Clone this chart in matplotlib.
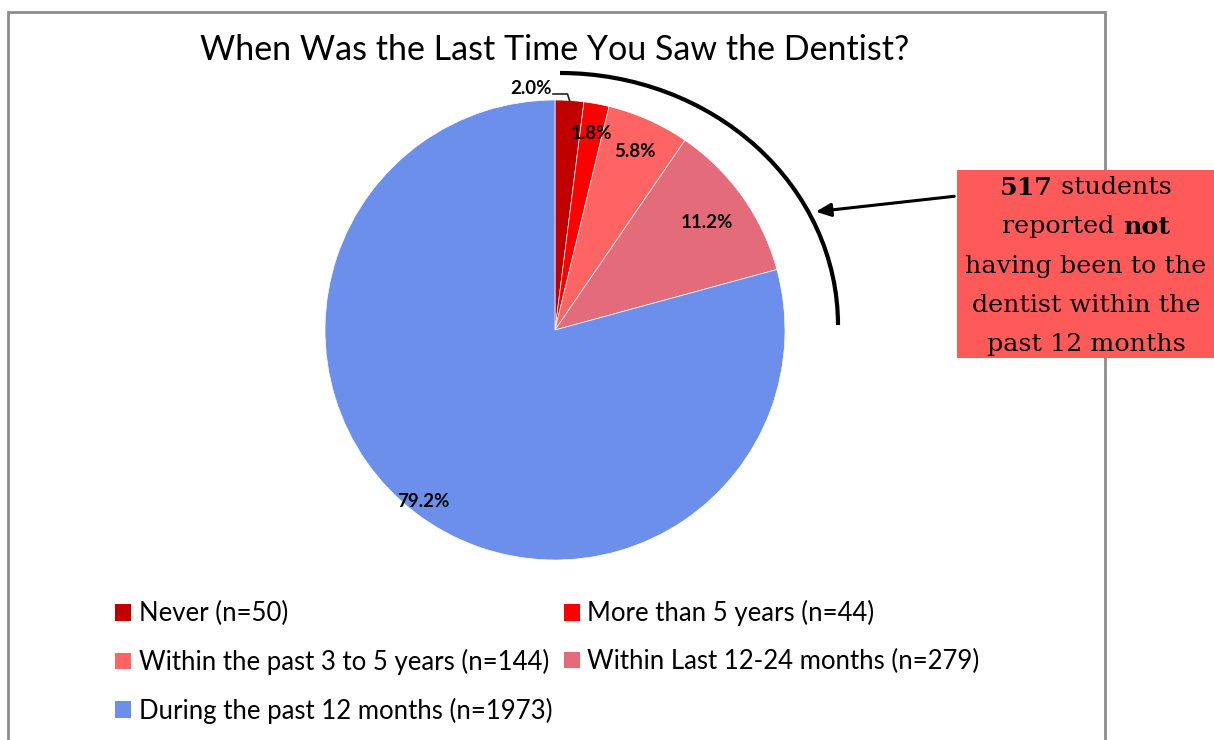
import numpy as np
import matplotlib.pyplot as plt
from matplotlib.patches import Patch, Rectangle, Arc

# survey counts
categories = ['Never', 'More than 5 years', 'Within the past 3 to 5 years',
              'Within Last 12-24 months', 'During the past 12 months']
counts = [50, 44, 144, 279, 1973]
colors = ['#C00000', '#FF0000', '#FF6464', '#E46C7A', '#6B8FEA']
not_recent = sum(counts[:4])

W, H = 1214, 740
fig = plt.figure(figsize=(W / 100, H / 100), dpi=100)
ax = fig.add_axes([0, 0, 1, 1])
ax.set_xlim(0, W)
ax.set_ylim(0, H)
ax.set_aspect('equal')
ax.axis('off')

def py(y):
    # pixel row -> data y
    return H - y

# chart frame
ax.add_patch(Rectangle((8, py(760)), 1097, 760 - 12, fill=False,
                       edgecolor='#8c8c8c', linewidth=2, zorder=1))

ax.text(555, py(50), 'When Was the Last Time You Saw the Dentist?',
        ha='center', va='center', fontsize=24.5, family='Lato')

cx, cy, r = 555, py(330), 230
wedges, _ = ax.pie(counts, colors=colors, startangle=90, counterclock=False,
                   center=(cx, cy), radius=r, frame=True,
                   wedgeprops=dict(edgecolor='white', linewidth=0.5))
ax.set_xlim(0, W)
ax.set_ylim(0, H)
ax.axis('off')

# percentage labels
pcts = [100 * c / sum(counts) for c in counts]
label_r = [None, 0.87, 0.85, 0.81, 0.94]
for w, p, lr in zip(wedges, pcts, label_r):
    mid = np.deg2rad((w.theta1 + w.theta2) / 2)
    if lr is None:
        # small slice: label outside with a leader line
        ex, ey = cx + r * np.cos(mid), cy + r * np.sin(mid)
        ax.plot([cx - 2, ex - 2, ex], [py(94), py(94), ey], color='#222222',
                linewidth=1.2, zorder=4)
        ax.text(cx - 3, py(88), f'{p:.1f}%', ha='right', va='center',
                fontsize=13.5, family='Lato', fontweight='bold', zorder=5)
        continue
    tx, ty = cx + lr * r * np.cos(mid), cy + lr * r * np.sin(mid)
    ax.text(tx, ty, f'{p:.1f}%', ha='center', va='center', fontsize=13.5,
            family='Lato', fontweight='bold', zorder=5)

# bracket arc over the "not within 12 months" slices
ax.add_patch(Arc((560, py(325)), 2 * 278, 2 * 252, theta1=0, theta2=90,
                 color='black', linewidth=3, zorder=3))
ax.annotate('', xy=(813, py(212)), xytext=(957, py(196)),
            arrowprops=dict(arrowstyle='-|>,head_length=0.9,head_width=0.4',
                            color='black', linewidth=2.2), zorder=3)

# callout box
ax.add_patch(Rectangle((957, py(358)), W - 957, 358 - 170,
                       facecolor='#FF5A5A', edgecolor='none', zorder=6))
serif = 'DejaVu Serif'
fs = 18.3
bx = 1086
fig.canvas.draw()
rend = fig.canvas.get_renderer()

def mixed_line(y, parts):
    # parts: list of (text, weight); centred as a whole on bx
    texts = [ax.text(0, py(y), s, fontsize=fs, family=serif, fontweight=wt,
                     va='center', ha='left', zorder=7) for s, wt in parts]
    widths = [t.get_window_extent(rend).width for t in texts]
    x = bx - sum(widths) / 2
    for t, wd in zip(texts, widths):
        t.set_x(x)
        x += wd

mixed_line(188, [(str(not_recent), 'bold'), (' students', 'normal')])
mixed_line(227, [('reported ', 'normal'), ('not', 'bold')])
mixed_line(266, [('having been to the', 'normal')])
mixed_line(305, [('dentist within the', 'normal')])
mixed_line(344, [('past 12 months', 'normal')])

# legend, filled row by row
labels = [f'{c} (n={n})' for c, n in zip(categories, counts)]
handles = [Patch(facecolor=c, edgecolor='none') for c in colors]
order = [0, 2, 4, 1, 3]
ax.legend([handles[i] for i in order], [labels[i] for i in order], ncol=2,
          loc='upper left', bbox_to_anchor=(92 / W, 1 - 577 / H),
          frameon=False, prop={'family': 'Lato', 'size': 18.5},
          handlelength=0.62, handleheight=0.62, handletextpad=0.3,
          columnspacing=0.45, labelspacing=0.88)

fig.savefig('out.png', dpi=100)
